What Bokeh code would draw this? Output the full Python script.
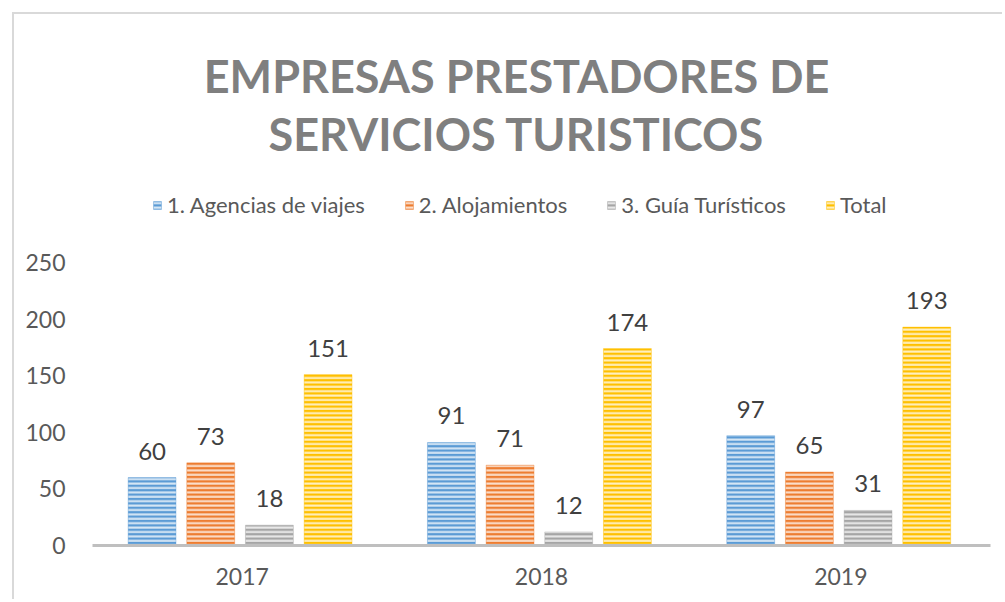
from bokeh.plotting import figure
from bokeh.models import (ColumnDataSource, FactorRange, Range1d, FixedTicker,
                          Label, Legend, LegendItem)
from bokeh.transform import dodge
from bokeh.core.properties import value
from bokeh.embed import file_html
from bokeh.resources import INLINE

years = ["2017", "2018", "2019"]
agencias = [60, 91, 97]
alojamientos = [73, 71, 65]
guias = [18, 12, 31]
total = [151, 174, 193]
series_names = ["1. Agencias de viajes", "2. Alojamientos", "3. Guía Turísticos", "Total"]
series_keys = ["agencias", "alojamientos", "guias", "total"]
colors = ["#5B9BD5", "#ED7D31", "#A5A5A5", "#FFC000"]
y_ticks = [0, 50, 100, 150, 200, 250]
title_lines = ["EMPRESAS PRESTADORES DE", "SERVICIOS TURISTICOS"]

FONT = "Lato"

src = ColumnDataSource(dict(years=years, agencias=agencias, alojamientos=alojamientos,
                            guias=guias, total=total,
                            agencias_t=[str(v) for v in agencias],
                            alojamientos_t=[str(v) for v in alojamientos],
                            guias_t=[str(v) for v in guias],
                            total_t=[str(v) for v in total]))

p = figure(x_range=FactorRange(*years, range_padding=0), y_range=Range1d(0, 464.7),
           width=990, height=587, output_backend="svg", toolbar_location=None,
           min_border_left=78, min_border_right=14, min_border_bottom=56, min_border_top=5)
p.styles = {"margin-left": "12px", "margin-top": "12px",
            "border-top": "2px solid #D9D9D9", "border-left": "2px solid #D9D9D9"}
p.title = None
p.outline_line_color = None
p.background_fill_color = "white"
p.border_fill_color = "white"
p.xgrid.grid_line_color = None
p.ygrid.grid_line_color = None

offsets = [-0.301, -0.105, 0.091, 0.287]
width = 0.16
renderers = []
for key, col, off in zip(series_keys, colors, offsets):
    r = p.vbar(x=dodge("years", off, range=p.x_range), top=key, width=width, source=src,
               fill_color=col, line_color=col, line_alpha=0.35, line_width=1,
               hatch_pattern="horizontal_line", hatch_color="white", hatch_alpha=0.75,
               hatch_scale=4.4, hatch_weight=2.1)
    renderers.append(r)
    p.text(x=dodge("years", off, range=p.x_range), y=key, text=key + "_t", source=src,
           text_align="center", text_baseline="bottom", y_offset=-18,
           text_font=value(FONT), text_font_size="24px", text_color="#404040")

p.yaxis.ticker = FixedTicker(ticks=y_ticks)
p.yaxis.axis_line_color = None
p.yaxis.major_tick_line_color = None
p.yaxis.minor_tick_line_color = None
p.yaxis.major_label_text_font = FONT
p.yaxis.major_label_text_font_size = "23px"
p.yaxis.major_label_text_color = "#595959"
p.yaxis.major_label_standoff = 21

p.xaxis.axis_line_color = "#BFBFBF"
p.xaxis.axis_line_width = 3
p.xaxis.major_tick_line_color = None
p.xaxis.minor_tick_line_color = None
p.xaxis.major_label_text_font = FONT
p.xaxis.major_label_text_font_size = "23px"
p.xaxis.major_label_text_color = "#595959"
p.xaxis.major_label_standoff = 16

for i, line in enumerate(title_lines):
    p.add_layout(Label(x=424, y=470 - 58 * i, x_units="screen", y_units="screen",
                       text=line, text_align="center", text_baseline="middle",
                       text_font=FONT, text_font_style="bold", text_font_size="45px",
                       text_color="#7F7F7F"))

legend = Legend(items=[LegendItem(label=n, renderers=[r]) for n, r in zip(series_names, renderers)],
                orientation="horizontal", location=(60, 327),
                label_text_font=FONT, label_text_font_size="22px", label_text_color="#595959",
                glyph_width=10, glyph_height=10, label_standoff=5, spacing=39,
                padding=0, margin=0, border_line_color=None, background_fill_alpha=0)
p.add_layout(legend, "center")

open("out.html", "w").write(file_html(p, INLINE))
